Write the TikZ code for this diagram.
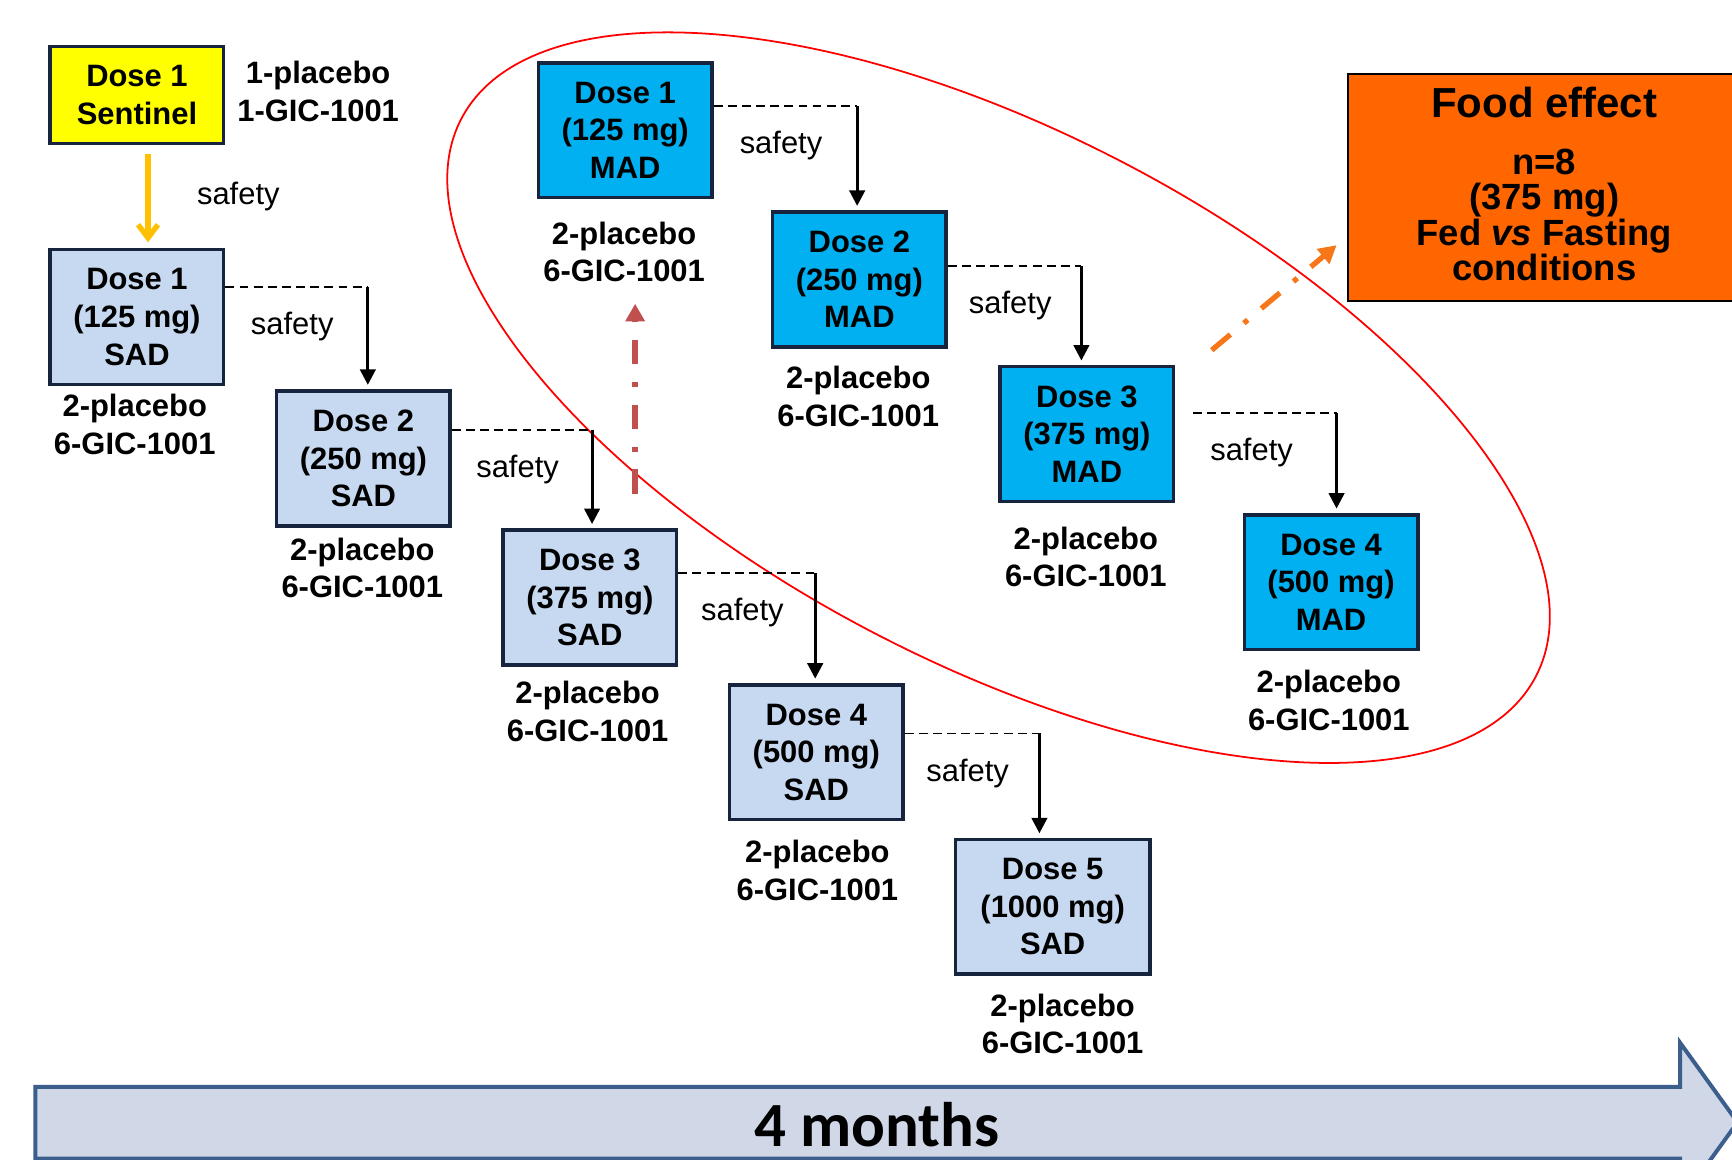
\documentclass[tikz,border=0pt]{standalone}
\usepackage{fontspec}
\setmainfont{Liberation Sans}
\newfontfamily\monthsfont{Carlito}
\usetikzlibrary{arrows.meta}

\definecolor{boxline}{RGB}{22,36,62}
\definecolor{sadblue}{RGB}{198,217,240}
\definecolor{madblue}{RGB}{0,176,240}
\definecolor{sentyellow}{RGB}{255,255,0}
\definecolor{safeyellow}{RGB}{255,192,0}
\definecolor{foodorange}{RGB}{255,102,0}
\definecolor{linkorange}{RGB}{247,118,25}
\definecolor{linkred}{RGB}{192,80,77}
\definecolor{timefill}{RGB}{208,216,232}
\definecolor{timeline}{RGB}{59,94,140}

\tikzset{
  dosebox/.style={draw=boxline, line width=1.6pt, minimum width=78.5pt, minimum height=61pt,
    align=center, inner sep=0pt, font=\bfseries\fontsize{14}{17}\selectfont},
  sad/.style={dosebox, fill=sadblue},
  mad/.style={dosebox, fill=madblue},
  cohort/.style={align=center, inner sep=0pt, font=\bfseries\fontsize{14}{17}\selectfont},
  safe/.style={inner sep=0pt, text=black, font=\fontsize{14}{17}\selectfont},
  dline/.style={line width=0.8pt, dash pattern=on 4pt off 2.4pt},
  arr/.style={line width=1.3pt, -{Triangle[width=7pt,length=7pt]}, shorten >=2pt},
  yarr/.style={line width=2.4pt, draw=safeyellow, -{Straight Barb[width=9pt,length=6pt]}, shorten <=4pt, shorten >=2.5pt},
  dashdot/.style={line width=2.4pt, dash pattern=on 11pt off 8pt on 2.3pt off 8pt,
    -{Triangle[width=8.5pt,length=8pt]}},
  foodbox/.style={draw=black, line width=0.9pt, fill=foodorange, minimum width=178pt, minimum height=102.4pt,
    align=center, inner sep=0pt, text depth=3.5pt, font=\bfseries\fontsize{16.5}{16}\selectfont},
  madring/.style={draw=red, line width=0.8pt},
  timearrow/.style={draw=timeline, line width=1.8pt, fill=timefill},
  months/.style={inner sep=0pt, font=\monthsfont\bfseries\fontsize{28.5}{34}\selectfont}
}

\begin{document}
\begin{tikzpicture}[x=0.5pt, y=-0.5pt]
\useasboundingbox (0,0) rectangle (1568,1050);
\clip (0,0) rectangle (1568,1050);

% MAD cohort ring
\draw[madring, rotate around={-27.4:(904,360)}] (904,360) ellipse [x radius=548, y radius=241];

% time line
\draw[timearrow] (32,984) -- (1521,984) -- (1521,944) -- (1573,1016) -- (1521,1088) -- (1521,1049) -- (32,1049) -- cycle;
\node[months, anchor=base] (months) at (794,1038) {4 months};

% sentinel
\node[dosebox, fill=sentyellow, minimum height=43.7pt] (sent) at (124,86) {Dose 1\\Sentinel};
\node[cohort] (sent-lab) at (288,83) {1-placebo\\1-GIC-1001};

% SAD
\node[sad] (sad1) at (124,287) {Dose 1\\(125 mg)\\SAD};
\node[sad] (sad2) at (329,415) {Dose 2\\(250 mg)\\SAD};
\node[sad] (sad3) at (534,541) {Dose 3\\(375 mg)\\SAD};
\node[sad] (sad4) at (739,681) {Dose 4\\(500 mg)\\SAD};
\node[sad, minimum width=88pt] (sad5) at (953,821) {Dose 5\\(1000 mg)\\SAD};
\node[cohort] (sad1-lab) at (122,384) {2-placebo\\6-GIC-1001};
\node[cohort] (sad2-lab) at (328,514) {2-placebo\\6-GIC-1001};
\node[cohort] (sad3-lab) at (532,644) {2-placebo\\6-GIC-1001};
\node[cohort] (sad4-lab) at (740,788) {2-placebo\\6-GIC-1001};
\node[cohort] (sad5-lab) at (962,927) {2-placebo\\6-GIC-1001};

% MAD
\node[mad] (mad1) at (566,118) {Dose 1\\(125 mg)\\MAD};
\node[mad] (mad2) at (778,253) {Dose 2\\(250 mg)\\MAD};
\node[mad] (mad3) at (984,393) {Dose 3\\(375 mg)\\MAD};
\node[mad] (mad4) at (1205,527) {Dose 4\\(500 mg)\\MAD};
\node[cohort] (mad1-lab) at (565,228) {2-placebo\\6-GIC-1001};
\node[cohort] (mad2-lab) at (777,359) {2-placebo\\6-GIC-1001};
\node[cohort] (mad3-lab) at (983,504) {2-placebo\\6-GIC-1001};
\node[cohort] (mad4-lab) at (1203,634) {2-placebo\\6-GIC-1001};

% food effect
\node[foodbox] (food) at (1398,169.7) {{\fontsize{19}{22}\selectfont Food effect}\\[10pt]
  n=8\\(375 mg)\\Fed \textit{vs} Fasting\\conditions};

% safety links
\draw[yarr] ([xshift=5pt]sent.south) -- node[safe, right=21pt] (safe-sent) {safety} ([xshift=5pt]sad1.north);
\foreach \src/\dst/\kx/\ky/\gap in {sad1/sad2/333/260/0pt, sad2/sad3/536/389/0pt, sad3/sad4/738/519/0pt,
    sad4/sad5/941/664/0pt, mad1/mad2/776/96/0pt, mad2/mad3/979/241/0pt, mad3/mad4/1210/374/8pt}
{
  \coordinate (k-\src) at (\kx,\ky);
  \draw[dline, shorten <=\gap] (\src.east |- k-\src) -- node[safe, below=11pt, xshift=-2pt] (safe-\src) {safety} (k-\src);
  \draw[arr] (k-\src) -- (k-\src |- \dst.north);
}

% dash-dot links
\coordinate (rd-start) at (575,447);
\coordinate (rd-end) at (575,275);
\draw[dashdot, linkred] (rd-start) -- (rd-end);
\coordinate (od-start) at (1097,317);
\coordinate (od-end) at (1210,222);
\draw[dashdot, linkorange] (od-start) -- (od-end);
\end{tikzpicture}
\end{document}
